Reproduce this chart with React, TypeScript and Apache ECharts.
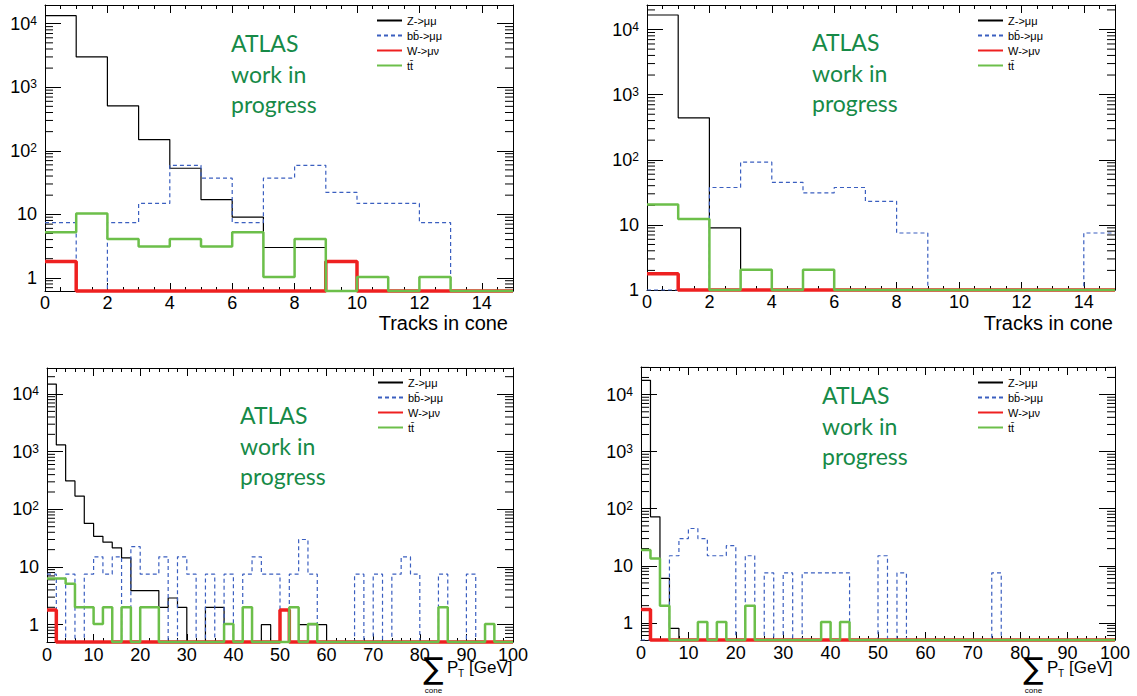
import React, { useEffect, useRef } from "react";
import * as echarts from "echarts";

// ---------------- data ----------------
const SERIES_NAMES = ["Z->μμ", "bb\u0304->μμ", "W->μν", "tt\u0304"];

// Top row: tracks in cone, 1 track per bin, 0..15
const TRACK_BIN_WIDTH = 1;
const TRK_L_Z = [13400, 3000, 510, 150, 53, 17, 9, 3, 3, 0, 0, 0, 0, 0, 0];
const TRK_L_BB = [7.4, 0, 7.4, 14.8, 59, 37, 7.4, 37, 59, 22.2, 14.8, 14.8, 7.4, 0, 0];
const TRK_L_W = [1.8, 0, 0, 0, 0, 0, 0, 0, 0, 1.8, 0, 0, 0, 0, 0];
const TRK_L_TT = [5.2, 10.3, 4.1, 3.1, 4.1, 3.1, 5.2, 1.03, 4.1, 0, 1.03, 0, 1.03, 0, 0];

const TRK_R_Z = [16700, 440, 9, 0, 0, 0, 0, 0, 0, 0, 0, 0, 0, 0, 0];
const TRK_R_BB = [0, 0, 37.5, 92, 45, 31, 37.5, 23, 7.5, 0, 0, 0, 0, 0, 7.5];
const TRK_R_W = [1.78, 0, 0, 0, 0, 0, 0, 0, 0, 0, 0, 0, 0, 0, 0];
const TRK_R_TT = [20.5, 12.3, 0, 2.05, 0, 2.05, 0, 0, 0, 0, 0, 0, 0, 0, 0];

// Bottom row: sum pT in cone, 2 GeV per bin, 0..100 GeV
const PT_BIN_WIDTH = 2;
const PT_L_Z = [
  14900, 1310, 311, 170, 57, 34, 27, 21.5, 14.4, 3.9,
  3.9, 3.9, 2, 2.9, 2, 0, 0, 2, 2, 0,
  0, 0, 0, 1, 0, 0, 0, 1, 1, 1,
  0, 0, 0, 0, 0, 0, 0, 0, 0, 0,
  0, 0, 0, 0, 0, 0, 0, 0, 0, 0,
];
const PT_L_BB = [
  7.5, 0, 7.5, 0, 7.5, 15, 7.5, 15, 0, 22.5,
  7.5, 7.5, 15, 0, 15, 7.5, 0, 7.5, 0, 7.5,
  0, 7.5, 15, 7.5, 7.5, 0, 7.5, 30, 7.5, 0,
  0, 0, 0, 7.5, 0, 7.5, 0, 7.5, 15, 7.5,
  0, 0, 7.5, 0, 0, 7.5, 0, 0, 0, 0,
];
const PT_L_W = [
  1.8, 0, 0, 0, 0, 0, 0, 0, 0, 0,
  0, 0, 0, 0, 0, 0, 0, 0, 0, 0,
  0, 0, 0, 0, 0, 1.8, 0, 0, 0, 0,
  0, 0, 0, 0, 0, 0, 0, 0, 0, 0,
  0, 0, 0, 0, 0, 0, 0, 0, 0, 0,
];
const PT_L_TT = [
  6.3, 6.3, 5.1, 2, 2, 1.03, 2, 0, 2, 0,
  2, 2, 0, 0, 0, 0, 0, 0, 0, 1.03,
  0, 2, 0, 0, 0, 0, 2, 0, 1.03, 0,
  0, 0, 0, 0, 0, 0, 0, 0, 0, 0,
  0, 0, 2, 0, 0, 0, 0, 1.03, 0, 0,
];

const PT_R_Z = [
  17800, 72, 6, 0.8, 0, 0, 0, 0, 0, 0,
  0, 0, 0, 0, 0, 0, 0, 0, 0, 0,
  0, 0, 0, 0, 0, 0, 0, 0, 0, 0,
  0, 0, 0, 0, 0, 0, 0, 0, 0, 0,
  0, 0, 0, 0, 0, 0, 0, 0, 0, 0,
];
const PT_R_BB = [
  0, 0, 0, 15, 30, 45, 30, 15, 15, 22.5,
  0, 15, 0, 7.5, 0, 7.5, 0, 7.5, 7.5, 7.5,
  7.5, 7.5, 0, 0, 0, 15, 0, 7.5, 0, 0,
  0, 0, 0, 0, 0, 0, 0, 7.5, 0, 0,
  0, 0, 0, 0, 0, 0, 0, 0, 0, 0,
];
const PT_R_W = [
  1.72, 0, 0, 0, 0, 0, 0, 0, 0, 0,
  0, 0, 0, 0, 0, 0, 0, 0, 0, 0,
  0, 0, 0, 0, 0, 0, 0, 0, 0, 0,
  0, 0, 0, 0, 0, 0, 0, 0, 0, 0,
  0, 0, 0, 0, 0, 0, 0, 0, 0, 0,
];
const PT_R_TT = [
  18.9, 13.4, 2, 0, 0, 0, 1.03, 0, 1.03, 0,
  0, 2, 0, 0, 0, 0, 0, 0, 0, 1.03,
  0, 1.03, 0, 0, 0, 0, 0, 0, 0, 0,
  0, 0, 0, 0, 0, 0, 0, 0, 0, 0,
  0, 0, 0, 0, 0, 0, 0, 0, 0, 0,
];

// log-axis minor tick multipliers and decades
const MINOR_MULTIPLIERS = [2, 3, 4, 5, 6, 7, 8, 9];
const DECADES = [0.1, 1, 10, 100, 1000, 10000];

const ATLAS_TEXT = "ATLAS\nwork in\nprogress";
const TRACK_TITLE = "Tracks in cone";

// ---------------- layout / style ----------------
const FONT = '"Liberation Sans", Arial, Helvetica, sans-serif';
const SERIES_STYLES = [
  { color: "#000000", width: 1.2, type: "solid" as any },
  { color: "#3b5fc0", width: 1.2, type: [4, 3] as any },
  { color: "#ee2020", width: 3.5, type: "solid" as any },
  { color: "#6cbf4a", width: 2.5, type: "solid" as any },
];
const ATLAS_GREEN = "#168a47";

const PANELS = [
  {
    left: 45, top: 5, width: 468, height: 286,
    xMax: 15, xInterval: 2, xMinor: 4, showMaxX: false, xLabelMargin: 3,
    yMin: 0.62, yMax: 19700, bin: TRACK_BIN_WIDTH,
    data: [TRK_L_Z, TRK_L_BB, TRK_L_W, TRK_L_TT],
    legend: { left: 376, top: 15 }, atlas: { x: 231, y: 28 },
  },
  {
    left: 647, top: 5, width: 468, height: 285,
    xMax: 15, xInterval: 2, xMinor: 4, showMaxX: false, xLabelMargin: 3,
    yMin: 1, yMax: 23800, bin: TRACK_BIN_WIDTH,
    data: [TRK_R_Z, TRK_R_BB, TRK_R_W, TRK_R_TT],
    legend: { left: 977, top: 15 }, atlas: { x: 812, y: 27 },
  },
  {
    left: 47, top: 368, width: 466, height: 274,
    xMax: 100, xInterval: 10, xMinor: 5, showMaxX: true, xLabelMargin: 4,
    yMin: 0.5, yMax: 28300, bin: PT_BIN_WIDTH,
    data: [PT_L_Z, PT_L_BB, PT_L_W, PT_L_TT],
    legend: { left: 377, top: 377 }, atlas: { x: 240, y: 400 },
  },
  {
    left: 641, top: 367, width: 474, height: 273,
    xMax: 100, xInterval: 10, xMinor: 5, showMaxX: true, xLabelMargin: 4,
    yMin: 0.5, yMax: 30500, bin: PT_BIN_WIDTH,
    data: [PT_R_Z, PT_R_BB, PT_R_W, PT_R_TT],
    legend: { left: 977, top: 377 }, atlas: { x: 822, y: 380 },
  },
];

function stepPoints(values: number[], width: number, floor: number) {
  const pts: number[][] = [];
  values.forEach((v, i) => {
    const y = v > floor ? v : floor;
    pts.push([i * width, y], [(i + 1) * width, y]);
  });
  return pts;
}

function minorTickValues(min: number, max: number) {
  const out: number[] = [];
  DECADES.forEach((d) =>
    MINOR_MULTIPLIERS.forEach((m) => {
      const v = d * m;
      if (v > min && v < max) out.push(v);
    })
  );
  return out;
}

const yLabelFormatter = (v: number) => {
  const e = Math.log10(v);
  const r = Math.round(e);
  if (Math.abs(e - r) > 1e-6) return "";
  if (r === 0) return "1";
  if (r === 1) return "10";
  return "10{sup|" + r + "}";
};

function buildOption() {
  const grid: any[] = [];
  const xAxis: any[] = [];
  const yAxis: any[] = [];
  const series: any[] = [];
  const legend: any[] = [];
  const graphic: any[] = [];
  const lineStyle = { color: "#000", width: 1 };

  PANELS.forEach((p, i) => {
    grid.push({
      left: p.left, top: p.top, width: p.width, height: p.height,
      containLabel: false, outerBoundsMode: "none", show: false,
    });
    const baseX = {
      type: "value", gridIndex: i, min: 0, max: p.xMax, interval: p.xInterval,
      splitLine: { show: false },
      axisLine: { show: true, onZero: false, lineStyle },
      axisTick: { show: true, inside: true, length: 8, lineStyle },
      minorTick: { show: true, splitNumber: p.xMinor, length: 4, lineStyle },
      minorSplitLine: { show: false },
    };
    xAxis.push({
      ...baseX, position: "bottom",
      axisLabel: {
        show: true, margin: p.xLabelMargin, fontSize: 18, fontFamily: FONT, color: "#000",
        showMaxLabel: p.showMaxX, showMinLabel: true,
      },
    });
    xAxis.push({ ...baseX, position: "top", axisLabel: { show: false } });

    const baseY = {
      type: "log", logBase: 10, gridIndex: i, min: p.yMin, max: p.yMax,
      splitLine: { show: false },
      axisLine: { show: true, onZero: false, lineStyle },
      axisTick: { show: true, inside: true, length: 16, lineStyle },
      minorTick: { show: false },
    };
    yAxis.push({
      ...baseY, position: "left",
      axisLabel: {
        show: true, margin: 8, fontSize: 18, fontFamily: FONT, color: "#000",
        formatter: yLabelFormatter,
        rich: { sup: { fontSize: 12, fontFamily: FONT, color: "#000", verticalAlign: "top" } },
      },
    });
    yAxis.push({ ...baseY, position: "right", axisLabel: { show: false } });

    // log minor ticks on both vertical frame edges
    series.push({
      type: "custom", name: "minorTicks" + i, coordinateSystem: "cartesian2d",
      xAxisIndex: 2 * i, yAxisIndex: 2 * i, silent: true, z: 1,
      data: minorTickValues(p.yMin, p.yMax).map((v) => [0, v]),
      encode: { x: 0, y: 1 },
      renderItem: (params: any, api: any) => {
        const pt = api.coord([api.value(0), api.value(1)]);
        const cs = params.coordSys;
        return {
          type: "group",
          children: [
            { type: "line", shape: { x1: cs.x, y1: pt[1], x2: cs.x + 8, y2: pt[1] }, style: { stroke: "#000", lineWidth: 1 } },
            { type: "line", shape: { x1: cs.x + cs.width - 8, y1: pt[1], x2: cs.x + cs.width, y2: pt[1] }, style: { stroke: "#000", lineWidth: 1 } },
          ],
        };
      },
    });

    p.data.forEach((arr, k) => {
      series.push({
        type: "line", name: SERIES_NAMES[k], xAxisIndex: 2 * i, yAxisIndex: 2 * i,
        data: stepPoints(arr, p.bin, p.yMin),
        showSymbol: false, symbol: "none", clip: false, silent: true, z: 3 + k,
        lineStyle: SERIES_STYLES[k], itemStyle: { color: SERIES_STYLES[k].color },
      });
    });

    legend.push({
      left: p.legend.left, top: p.legend.top, orient: "vertical", padding: 0,
      itemWidth: 25, itemHeight: 11, itemGap: 4, selectedMode: false,
      data: SERIES_NAMES,
      itemStyle: { opacity: 0 },
      textStyle: { fontSize: 11, fontFamily: FONT, color: "#000", lineHeight: 11 },
    });

    graphic.push({
      type: "text", x: p.atlas.x, y: p.atlas.y, silent: true,
      style: {
        text: ATLAS_TEXT, fontSize: 23, fontFamily: "Lato, 'Open Sans', sans-serif",
        fill: ATLAS_GREEN, lineHeight: 30.5, align: "left", verticalAlign: "top",
      },
    });
  });

  // x-axis titles (top row)
  [{ x: 508, y: 323 }, { x: 1113, y: 323 }].forEach((pos) => {
    graphic.push({
      type: "text", x: pos.x, y: pos.y, silent: true,
      style: { text: TRACK_TITLE, fontSize: 20, fontFamily: FONT, fill: "#000", align: "right", verticalAlign: "middle" },
    });
  });
  // x-axis titles (bottom row): sum over cone of pT
  [0, 600].forEach((dx) => {
    graphic.push(
      { type: "text", x: 433.5 + dx, y: 668, silent: true,
        style: { text: "∑", fontSize: 30, fontFamily: "'DejaVu Sans', sans-serif", fill: "#000", align: "center", verticalAlign: "middle" } },
      { type: "text", x: 433.5 + dx, y: 690, silent: true,
        style: { text: "cone", fontSize: 8, fontFamily: FONT, fill: "#000", align: "center", verticalAlign: "middle" } },
      { type: "text", x: 447 + dx, y: 667, silent: true,
        style: { text: "P", fontSize: 17, fontFamily: FONT, fill: "#000", align: "left", verticalAlign: "middle" } },
      { type: "text", x: 458 + dx, y: 673, silent: true,
        style: { text: "T", fontSize: 10, fontFamily: FONT, fill: "#000", align: "left", verticalAlign: "middle" } },
      { type: "text", x: 469 + dx, y: 667, silent: true,
        style: { text: "[GeV]", fontSize: 17, fontFamily: FONT, fill: "#000", align: "left", verticalAlign: "middle" } }
    );
  });

  return {
    animation: false,
    backgroundColor: "#ffffff",
    grid, xAxis, yAxis, series, legend, graphic,
  };
}

export default function App() {
  const ref = useRef<HTMLDivElement>(null);
  useEffect(() => {
    const chart = echarts.init(ref.current as HTMLDivElement, null, { renderer: "svg" });
    chart.setOption(buildOption() as any);
    return () => chart.dispose();
  }, []);
  return (
    <div
      ref={ref}
      style={{ position: "absolute", left: 0, top: 0, width: 1137, height: 696, background: "#fff" }}
    />
  );
}
